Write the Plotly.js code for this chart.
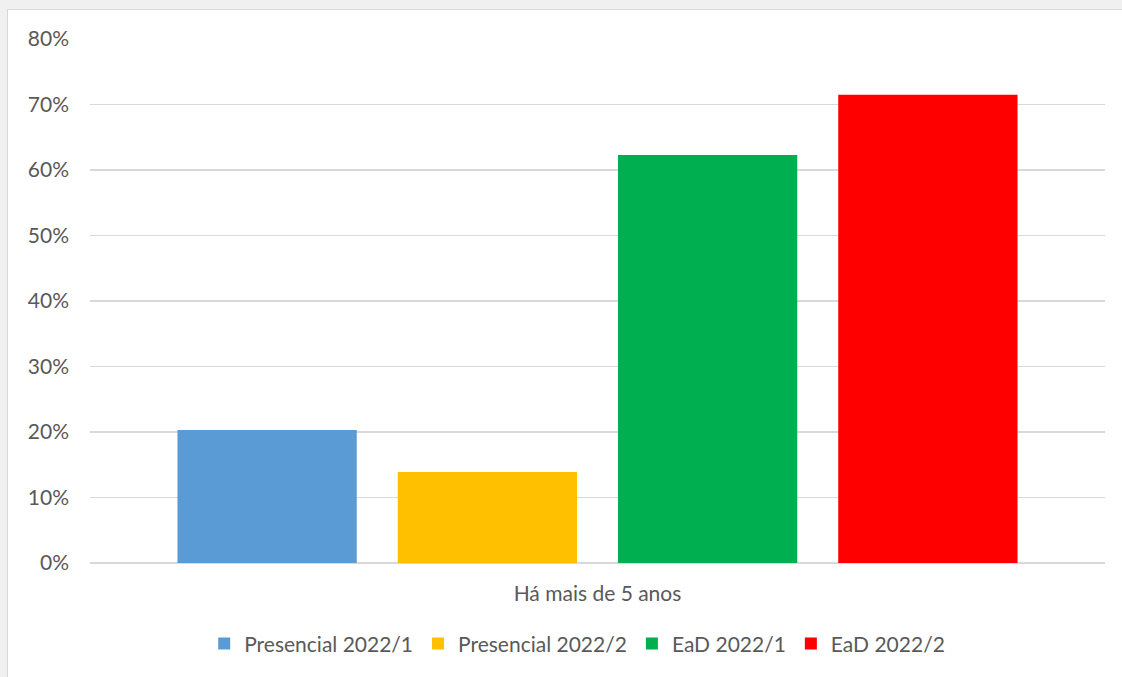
<!DOCTYPE html>
<html>
<head>
<meta charset="utf-8">
<script src="https://cdn.plot.ly/plotly-3.0.1.min.js"></script>
<style>
  html, body { margin: 0; padding: 0; background: #f0f0f0; width: 1122px; height: 677px; overflow: hidden; }
  #box { position: absolute; left: 7px; top: 9px; width: 1115px; height: 668px; background: #fff;
         border-left: 1px solid #d9d9d9; border-top: 1px solid #d9d9d9; box-sizing: border-box; }
  #chart { width: 1114px; height: 667px; }
</style>
</head>
<body>
<div id="box"><div id="chart"></div></div>
<script>
const categories = ["Há mais de 5 anos"];
const seriesNames = ["Presencial 2022/1", "Presencial 2022/2", "EaD 2022/1", "EaD 2022/2"];
const presencial2022_1 = [0.203];
const presencial2022_2 = [0.139];
const ead2022_1 = [0.623];
const ead2022_2 = [0.715];
const seriesValues = [presencial2022_1, presencial2022_2, ead2022_1, ead2022_2];
const seriesColors = ["#5b9bd5", "#ffc000", "#00b050", "#ff0000"];
const yTickValues = [0, 0.1, 0.2, 0.3, 0.4, 0.5, 0.6, 0.7, 0.8];

const traces = seriesNames.map((name, i) => ({
  type: "bar",
  name: name,
  x: categories,
  y: seriesValues[i],
  marker: { color: seriesColors[i], line: { width: 0 } },
  hoverinfo: "name+y"
}));

const font = { family: "Lato, 'Open Sans', sans-serif", color: "#595959", size: 21 };

const layout = {
  width: 1114,
  height: 667,
  margin: { l: 82, r: 17, t: 29, b: 114, autoexpand: false },
  paper_bgcolor: "#ffffff",
  plot_bgcolor: "#ffffff",
  font: font,
  barmode: "group",
  bargap: 0.132,
  bargroupgap: 0.186,
  showlegend: true,
  legend: {
    orientation: "h",
    x: 0.48, xanchor: "center",
    y: -0.115, yanchor: "top",
    font: font,
    itemwidth: 30,
    traceorder: "normal"
  },
  xaxis: {
    type: "category",
    showgrid: false,
    showline: false,
    zeroline: false,
    ticks: "",
    tickfont: font,
    ticklabelstandoff: 16
  },
  yaxis: {
    range: [0, 0.8],
    tickvals: yTickValues,
    tickformat: ".0%",
    showgrid: true,
    gridcolor: "#d9d9d9",
    gridwidth: 1.5,
    zeroline: true,
    zerolinecolor: "#d9d9d9",
    zerolinewidth: 1.5,
    showline: false,
    ticks: "",
    tickfont: font,
    ticklabelstandoff: 20,
    fixedrange: true
  }
};

Plotly.newPlot("chart", traces, layout, { displayModeBar: false, staticPlot: true });
</script>
</body>
</html>
